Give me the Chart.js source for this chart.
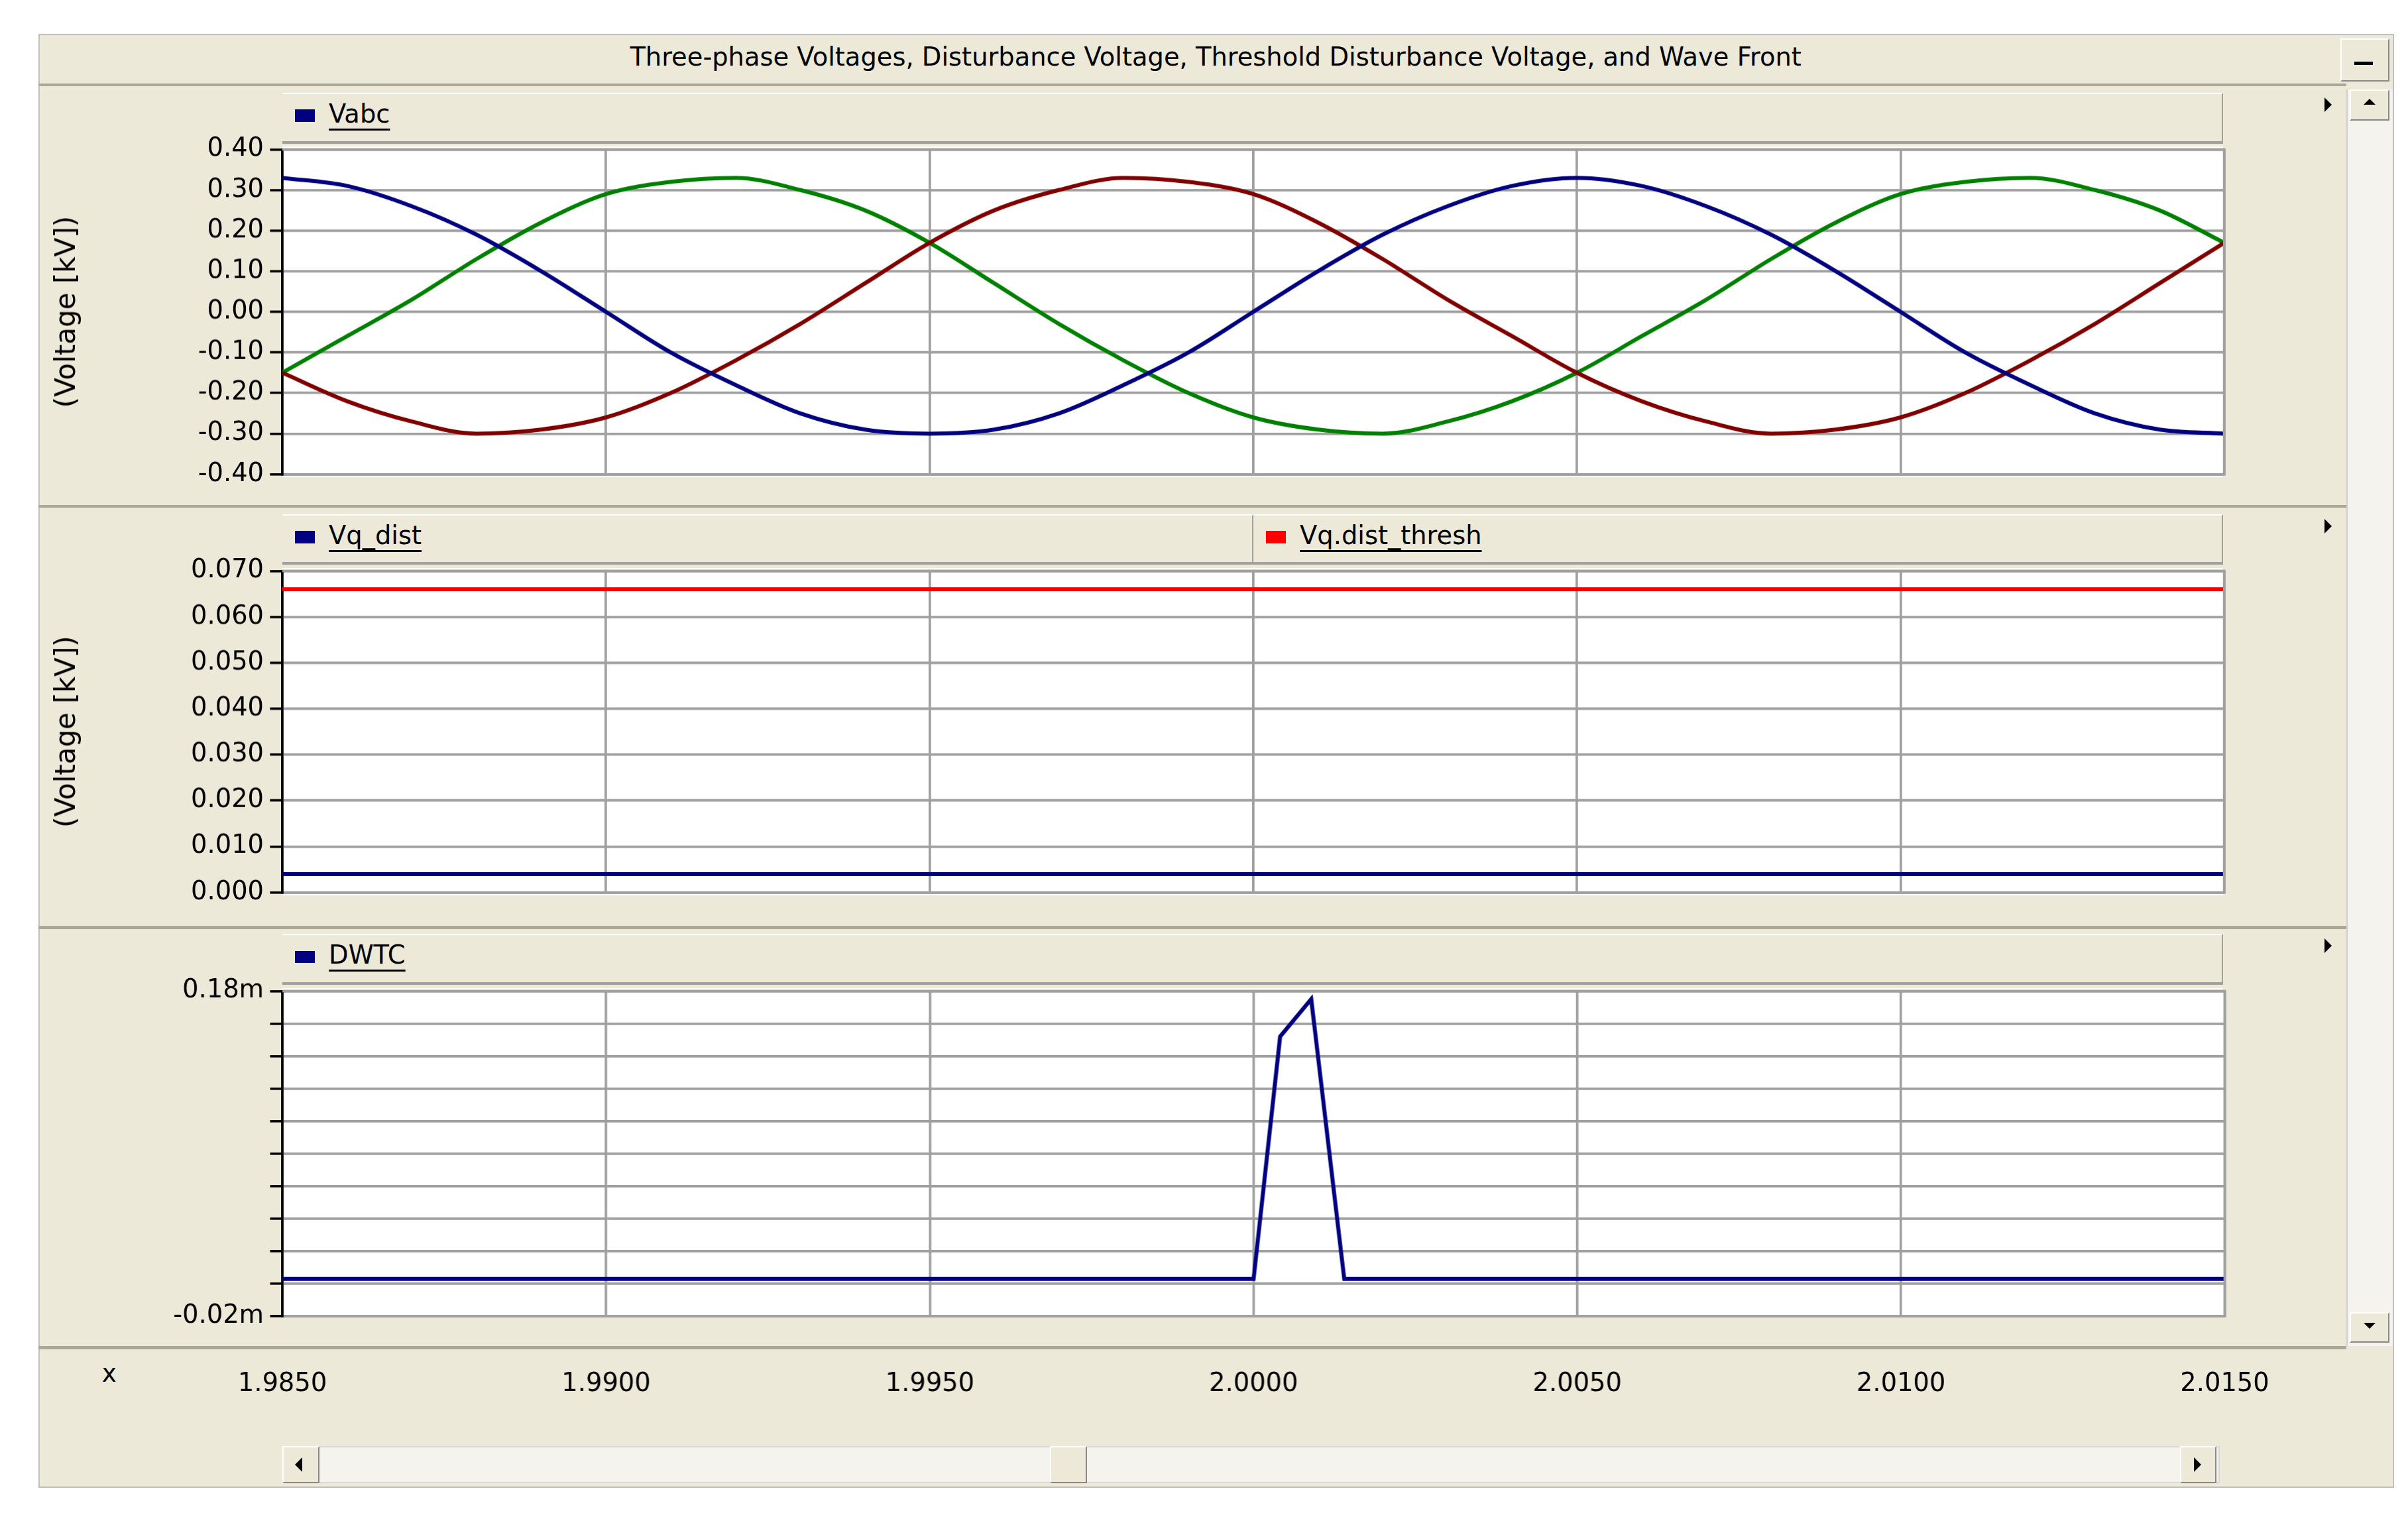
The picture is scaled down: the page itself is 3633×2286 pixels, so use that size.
<!DOCTYPE html>
<html><head><meta charset="utf-8">
<script src="https://cdn.jsdelivr.net/npm/chart.js@4.4.1/dist/chart.umd.min.js"></script>
<style>
html,body{margin:0;padding:0;background:#fff;width:3633px;height:2286px;overflow:hidden;font-family:"DejaVu Sans",sans-serif;}
.abs{position:absolute;box-sizing:border-box;}
canvas{position:absolute;}
</style></head><body>
<div id="root"></div>
<script>
// ---- data ----
const timeTicks = [1.985, 1.990, 1.995, 2.000, 2.005, 2.010, 2.015];
const tSample = [1.985,1.986,1.987,1.988,1.989,1.990,1.991,1.992,1.993,1.994,1.995,1.996,1.997,1.998,1.999,2.000,2.001,2.002,2.003,2.004,2.005,2.006,2.007,2.008,2.009,2.010,2.011,2.012,2.013,2.014,2.015];
const vaBlue  = [0.33,0.31,0.26,0.19,0.10,0.00,-0.10,-0.18,-0.25,-0.29,-0.30,-0.29,-0.25,-0.18,-0.10,0.00,0.10,0.19,0.26,0.31,0.33,0.31,0.26,0.19,0.10,0.00,-0.10,-0.18,-0.25,-0.29,-0.30];
const vbRed   = [-0.15,-0.22,-0.27,-0.30,-0.29,-0.26,-0.20,-0.12,-0.03,0.07,0.17,0.25,0.30,0.33,0.32,0.29,0.22,0.13,0.03,-0.06,-0.15,-0.22,-0.27,-0.30,-0.29,-0.26,-0.20,-0.12,-0.03,0.07,0.17];
const vcGreen = [-0.15,-0.06,0.03,0.13,0.22,0.29,0.32,0.33,0.30,0.25,0.17,0.07,-0.03,-0.12,-0.20,-0.26,-0.29,-0.30,-0.27,-0.22,-0.15,-0.06,0.03,0.13,0.22,0.29,0.32,0.33,0.30,0.25,0.17];
const vqTime = [1.985, 2.015];
const vqDist = [0.004, 0.004];
const vqThresh = [0.066, 0.066];
const dwtcTime = [1.985, 2.0000, 2.00041, 2.00089, 2.0014, 2.015];
const dwtcVal  = [0.003, 0.003, 0.152, 0.175, 0.003, 0.003]; // in m (milli)
const vabcTicks = [-0.40,-0.30,-0.20,-0.10,0.00,0.10,0.20,0.30,0.40];
const vqTicks = [0.000,0.010,0.020,0.030,0.040,0.050,0.060,0.070];

// ---- layout helpers (display units * S) ----
const S = 2.329;
const root = document.getElementById('root');
const BEIGE = '#ece9d8';
function box(x,y,w,h,style){const d=document.createElement('div');d.className='abs';
 d.style.left=(x*S)+'px';d.style.top=(y*S)+'px';d.style.width=(w*S)+'px';d.style.height=(h*S)+'px';
 Object.assign(d.style,style||{});root.appendChild(d);return d;}
function text(x,y,t,size,style){const d=document.createElement('div');d.className='abs';
 d.style.left=(x*S)+'px';d.style.top=(y*S)+'px';d.style.fontSize=(size*S)+'px';d.style.whiteSpace='nowrap';
 d.textContent=t;Object.assign(d.style,style||{});root.appendChild(d);return d;}

box(25,22,1526,942,{background:BEIGE,border:(1*S)+'px solid #c0c0c0'});
box(25,54,1495,2,{background:'#aca899'});
text(0,27,'Three-phase Voltages, Disturbance Voltage, Threshold Disturbance Voltage, and Wave Front',16.5,{width:(1575*S)+'px',textAlign:'center'});
box(1516,25,32,28,{background:BEIGE,border:(1*S)+'px solid #fff',borderRightColor:'#888',borderBottomColor:'#888'});
box(1525,40,12,2,{background:'#000'});
[327,600,872].forEach(y=>box(25,y,1495,2,{background:'#aca899'}));
[[95,309],[368,580],[640,853]].forEach(([a,b])=>box(183,a,1257,b-a,{background:'#fff'}));
box(1520,58,30,814,{background:'#f4f3ee',borderLeft:(1*S)+'px solid #d0d0d0'});
box(1522,58,26,20,{background:BEIGE,border:(1*S)+'px solid #fff',borderRightColor:'#888',borderBottomColor:'#888'});
box(1522,850,26,20,{background:BEIGE,border:(1*S)+'px solid #fff',borderRightColor:'#888',borderBottomColor:'#888'});
function tri(x,y,dir,sz){const d=document.createElement('div');d.className='abs';d.style.left=(x*S)+'px';d.style.top=(y*S)+'px';
 d.style.width='0';d.style.height='0';const s=sz*S;
 if(dir==='up'){d.style.borderLeft=s+'px solid transparent';d.style.borderRight=s+'px solid transparent';d.style.borderBottom=s+'px solid #000';}
 if(dir==='down'){d.style.borderLeft=s+'px solid transparent';d.style.borderRight=s+'px solid transparent';d.style.borderTop=s+'px solid #000';}
 if(dir==='right'){d.style.borderTop=s+'px solid transparent';d.style.borderBottom=s+'px solid transparent';d.style.borderLeft=s+'px solid #000';}
 if(dir==='left'){d.style.borderTop=s+'px solid transparent';d.style.borderBottom=s+'px solid transparent';d.style.borderRight=s+'px solid #000';}
 root.appendChild(d);}
tri(1531,64,'up',4);tri(1531,857,'down',4);
tri(1506,63,'right',5);tri(1506,336,'right',5);tri(1506,608,'right',5);
box(183,937,1255,24,{background:'#f4f3ee',border:(1*S)+'px solid #d8d8d8'});
box(183,937,24,24,{background:BEIGE,border:(1*S)+'px solid #fff',borderRightColor:'#888',borderBottomColor:'#888'});
box(1412,937,24,24,{background:BEIGE,border:(1*S)+'px solid #fff',borderRightColor:'#888',borderBottomColor:'#888'});
box(680,937,24,24,{background:BEIGE,border:(1*S)+'px solid #fff',borderRightColor:'#888',borderBottomColor:'#888'});
tri(191,944,'left',5);tri(1421,944,'right',5);
text(66,880,'x',16);
function legendBar(x,y,w,color,label){
 box(x,y,w,33,{background:BEIGE,borderTop:(1*S)+'px solid #fff',borderBottom:(2*S)+'px solid #a0a0a0',borderRight:(1*S)+'px solid #a0a0a0'});
 box(x+8,y+11,13,8,{background:color});
 text(x+30,y+4,label,16.5,{textDecoration:'underline',textUnderlineOffset:(4*S)+'px'});}
legendBar(183,60,1257,'#000080','Vabc');
legendBar(183,333,629,'#000080','Vq_dist');
legendBar(812,333,628,'#ff0000','Vq.dist_thresh');
legendBar(183,605,1257,'#000080','DWTC');

// ---- charts ----
Chart.defaults.font.family = '"DejaVu Sans", sans-serif';
Chart.defaults.color = '#000';
Chart.defaults.animation = false;
function mkCanvas(x,y,w,h){const c=document.createElement('canvas');c.style.left=(x*S)+'px';c.style.top=(y*S)+'px';
 c.style.width=(w*S)+'px';c.style.height=(h*S)+'px';root.appendChild(c);return c;}

const PAD = 12;
const LEFT = 25;
const AXW = 183-LEFT;
function makeChart(plotTop, plotBot, datasets, yOpt, showX, yTitle){
 const extraBottom = showX ? 60 : PAD;
 const extraRight = showX ? 50 : 1;
 const cv = mkCanvas(LEFT, plotTop-PAD, 1440-LEFT+1+extraRight, plotBot-plotTop+PAD+extraBottom);
 return new Chart(cv, {
  type:'line',
  data:{datasets},
  options:{
   responsive:false, maintainAspectRatio:false,
   devicePixelRatio:1,
   layout:{padding:{top:PAD*S,bottom:extraBottom*S,left:0,right:extraRight*S}},
   plugins:{legend:{display:false},tooltip:{enabled:false}},
   elements:{point:{radius:0},line:{borderWidth:2.6*S}},
   scales:{
    x:{type:'linear',min:1.985,max:2.015,
       afterBuildTicks:a=>{a.ticks=timeTicks.map(v=>({value:v}));},
       grid:{color:'#a0a0a0',lineWidth:1.6*S,drawTicks:false},
       border:{color:'#a0a0a0',width:1.6*S},
       ticks:{display:false}},
    y:Object.assign({
       afterFit:a=>{a.width=AXW*S;},
       grid:{color:'#a0a0a0',lineWidth:1.6*S,tickColor:'#000',tickLength:8*S,tickWidth:1.5*S},
       border:{color:'#000',width:1.6*S},
       title:{display:!!yTitle,text:yTitle||'',font:{size:18*S},padding:{top:8*S,bottom:0}}
      },yOpt)
   }
  },
  plugins:[{id:'frame',afterDraw(ch){const {ctx,chartArea:a}=ch;ctx.save();ctx.strokeStyle='#a0a0a0';ctx.lineWidth=1.6*S;
    ctx.beginPath();ctx.moveTo(a.left,a.top);ctx.lineTo(a.right,a.top);ctx.lineTo(a.right,a.bottom);ctx.stroke();
    if(showX){const xs=ch.scales.x;ctx.fillStyle='#000';ctx.font=(16.5*S)+'px "DejaVu Sans", sans-serif';ctx.textAlign='center';ctx.textBaseline='middle';
      timeTicks.forEach(v=>ctx.fillText(v.toFixed(4),xs.getPixelForValue(v),a.bottom+44*S));}
    ctx.restore();}}]
 });
}
function pts(xs,ys){return xs.map((x,i)=>({x,y:ys[i]}));}

makeChart(95,309,[
 {data:pts(tSample,vaBlue),borderColor:'#000080',tension:0.35,cubicInterpolationMode:'monotone'},
 {data:pts(tSample,vbRed),borderColor:'#800000',tension:0.35,cubicInterpolationMode:'monotone'},
 {data:pts(tSample,vcGreen),borderColor:'#008000',tension:0.35,cubicInterpolationMode:'monotone'}
],{min:-0.4,max:0.4,afterBuildTicks:a=>{a.ticks=vabcTicks.map(v=>({value:v}));},
  ticks:{font:{size:16.5*S},padding:4*S,callback:v=>v.toFixed(2)}},false,'(Voltage [kV])');

makeChart(368,580,[
 {data:pts(vqTime,vqDist),borderColor:'#000080'},
 {data:pts(vqTime,vqThresh),borderColor:'#ff0000'}
],{min:0,max:0.07,afterBuildTicks:a=>{a.ticks=vqTicks.map(v=>({value:v}));},
  ticks:{font:{size:16.5*S},padding:4*S,callback:v=>v.toFixed(3)}},false,'(Voltage [kV])');

makeChart(640,853,[
 {data:pts(dwtcTime,dwtcVal),borderColor:'#000080'}
],{min:-0.02,max:0.18,ticks:{stepSize:0.02,font:{size:16.5*S},padding:4*S,
   callback:v=>{if(Math.abs(v-0.18)<1e-6)return '0.18m';if(Math.abs(v+0.02)<1e-6)return '-0.02m';return '';}}},true,'');
</script>
</body></html>
